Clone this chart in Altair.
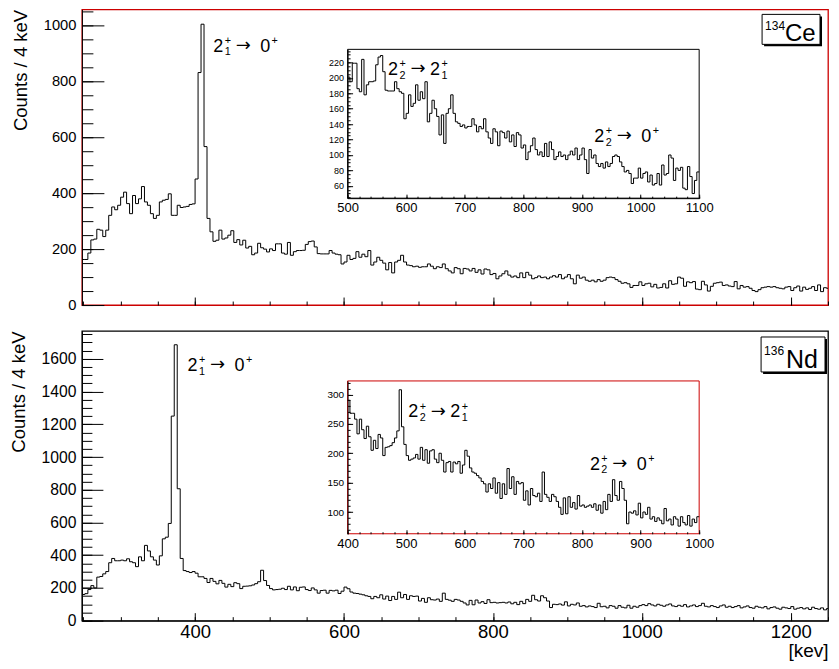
import altair as alt
import pandas as pd

FONT = "Liberation Sans"
BIN = 4          # keV per bin
E0 = 248         # lower edge of first bin (keV)

# ---------------- spectrum data: counts per 4 keV bin ----------------
# 134Ce : 248-500 keV (main view), 500-1100 keV, 1100-1252 keV
ce_low = [163, 163, 186, 233, 236, 271, 268, 245, 268, 321,
          351, 341, 357, 386, 404, 363, 327, 392, 363, 380,
          424, 369, 357, 327, 310, 321, 369, 375, 378, 398,
          321, 321, 357, 349, 351, 353, 360, 362,
          451, 832, 1005, 567,
          310, 262, 228, 232, 268, 236, 240, 250, 266, 224,
          234, 215, 232, 204, 210, 180, 186, 221, 205, 200, 190]
ce_mid = [201, 195, 219, 219, 186, 182, 224, 178, 191, 195,
          195, 196, 217, 227, 229, 208, 184, 183, 183, 183,
          195, 186, 182, 180, 147, 154, 178, 163, 167, 191,
          171, 182, 173, 195, 143, 154, 171, 160, 150, 126,
          152, 115, 154, 160, 178, 154, 143, 141, 137, 139,
          135, 137, 137, 147, 139, 130, 137, 134, 147, 130,
          122, 115, 134, 130, 112, 131, 129, 122, 131, 117,
          126, 111, 129, 126, 109, 113, 94, 104, 112, 122,
          107, 100, 104, 98, 115, 98, 117, 107, 94, 98,
          104, 98, 100, 94, 100, 105, 100, 109, 94, 100,
          109, 94, 76, 107, 96, 100, 89, 85, 89, 83,
          91, 85, 89, 98, 100, 98, 91, 85, 78, 80,
          76, 63, 70, 70, 83, 70, 76, 78, 65, 74,
          61, 63, 76, 61, 87, 74, 76, 100, 96, 67,
          83, 80, 84, 57, 55, 85, 72, 50, 67, 78]
ce_high = [80, 82, 70, 72, 68, 66, 84, 58, 70, 64,
           66, 60, 52, 48, 55, 62, 64, 66, 64, 66,
           62, 60, 58, 64, 66, 52, 62, 68, 50, 64,
           56, 60, 66, 52, 72, 48, 62, 60]

# 136Nd : 248-400 keV (main view), 400-1000 keV, 1000-1252 keV
nd_low = [160, 165, 190, 214, 200, 266, 270, 286, 300, 354,
          380, 366, 366, 370, 366, 378, 360, 354, 330, 390,
          366, 460, 426, 390, 370, 340, 396, 500, 510, 594,
          1250, 1686, 806, 380, 306, 300, 294, 300]
nd_mid = [290, 268, 268, 258, 233, 258, 240, 225, 246, 228,
          205, 222, 208, 232, 226, 196, 210, 211, 213, 218,
          226, 238, 308, 245, 215, 196, 188, 190, 192, 198,
          190, 210, 188, 206, 183, 204, 206, 190, 184, 200,
          188, 168, 184, 186, 168, 185, 182, 186, 166, 180,
          205, 195, 175, 168, 166, 162, 158, 152, 148, 134,
          148, 140, 158, 132, 150, 123, 148, 130, 174, 140,
          160, 130, 152, 148, 150, 120, 136, 112, 140, 128,
          126, 132, 118, 168, 130, 125, 118, 130, 126, 118,
          108, 96, 124, 97, 126, 108, 116, 105, 128, 110,
          112, 108, 110, 112, 108, 114, 103, 112, 98, 118,
          104, 130, 118, 155, 128, 120, 152, 140, 120, 80,
          100, 98, 102, 95, 115, 90, 100, 96, 108, 88,
          92, 84, 90, 86, 80, 106, 85, 88, 78, 92,
          88, 76, 92, 82, 78, 94, 76, 88, 82, 92]
nd_high = [98, 92, 104, 96, 90, 100, 94, 88, 96, 102,
           90, 86, 94, 88, 98, 84, 90, 96, 86, 92,
           106, 88, 84, 92, 86, 80, 90, 96, 82, 88,
           80, 86, 92, 78, 84, 90, 80, 76, 88, 82,
           78, 86, 72, 80, 84, 76, 70, 82, 78, 74,
           86, 70, 76, 80, 72, 78, 68, 82, 74, 70,
           78, 66, 74]

ce_counts = ce_low + ce_mid + ce_high
nd_counts = nd_low + nd_mid + nd_high

# ---------------- axis tick values ----------------
X_MAJOR = [400, 600, 800, 1000, 1200]
X_MINOR = list(range(250, 1251, 50))
CE_Y_MAJOR = [0, 200, 400, 600, 800, 1000]
CE_Y_MINOR = list(range(0, 1051, 50))
ND_Y_MAJOR = list(range(0, 1601, 200))
ND_Y_MINOR = list(range(0, 1751, 50))
CE_IN_X_MAJOR = list(range(500, 1101, 100))
CE_IN_X_MINOR = list(range(500, 1101, 20))
CE_IN_Y_MAJOR = list(range(60, 221, 20))
CE_IN_Y_MINOR = list(range(45, 236, 5))
ND_IN_X_MAJOR = list(range(400, 1001, 100))
ND_IN_X_MINOR = list(range(400, 1001, 20))
ND_IN_Y_MAJOR = list(range(100, 301, 50))
ND_IN_Y_MINOR = list(range(70, 321, 10))

# ---------------- annotations (anchor keV, anchor counts, sub a, b, sub of b) ----------------
ce_main_labels = [(424.3, 907, "1", "0", None)]
ce_inset_labels = [(569.0, 204, "2", "2", "1"), (921.0, 117, "2", "0", None)]
nd_main_labels = [(389.8, 1526, "1", "0", None)]
nd_inset_labels = [(503.5, 261, "2", "2", "1"), (813.5, 172, "2", "0", None)]

# ---------------- layout ----------------
W = 747
H1 = 296
H2 = 290
RED = "#cc0000"


def sc(dom, rng=None):
    if rng is None:
        return alt.Scale(domain=dom, nice=False, zero=False)
    return alt.Scale(domain=dom, range=rng, nice=False, zero=False)


def spectrum(counts, lo=None, hi=None):
    rows = [(E0 + BIN * i, v) for i, v in enumerate(counts)]
    if lo is not None:
        rows = [(e, v) for e, v in rows if lo <= e < hi]
    rows.append((rows[-1][0] + BIN, rows[-1][1]))
    return pd.DataFrame(rows, columns=["e", "c"])


def tick_axis(orient, offset, values, size):
    return alt.Axis(orient=orient, offset=offset, values=values, tickSize=size,
                    ticks=True, labels=False, domain=False, grid=False, title=None,
                    tickColor="black", tickWidth=1, zindex=2)


def hist(df, xs, ys, xax, yax):
    return alt.Chart(df).mark_line(interpolate="step-after", color="black",
                                   strokeWidth=1, clip=True).encode(
        x=alt.X("e:Q", scale=xs, axis=xax),
        y=alt.Y("c:Q", scale=ys, axis=yax))


def ghost(df, xs, ys, xax, yax):
    return alt.Chart(df).mark_line(opacity=0).encode(
        x=alt.X("e:Q", scale=xs, axis=xax),
        y=alt.Y("c:Q", scale=ys, axis=yax))


def transition(e, c, a, b, bsub, xs, ys, s=18):
    bdx = 42 if bsub else 47
    pieces = [("2", 0, 0, s, FONT), ("+", 11.5, -7.7, 0.6 * s, FONT),
              (a, 11.5, 3.8, 0.6 * s, FONT),
              ("→", 22.5, -0.5, s, "DejaVu Sans"), (b, bdx, 0, s, FONT),
              ("+", bdx + 11.5, -7.7, 0.6 * s, FONT)]
    if bsub:
        pieces.append((bsub, bdx + 11.5, 3.8, 0.6 * s, FONT))
    out = []
    for t, dx, dy, fs, fnt in pieces:
        d = pd.DataFrame({"e": [e], "c": [c], "t": [t]})
        out.append(alt.Chart(d).mark_text(align="left", baseline="alphabetic", dx=dx, dy=dy,
                                          fontSize=fs, font=fnt, color="black").encode(
            x=alt.X("e:Q", scale=xs, axis=None),
            y=alt.Y("c:Q", scale=ys, axis=None),
            text="t:N"))
    return out


def one():
    return pd.DataFrame({"k": [0]})


def rect(x1, x2, y1, y2, fill, stroke=None):
    kw = dict(fill=fill)
    if stroke:
        kw.update(stroke=stroke, strokeWidth=1)
    return alt.Chart(one()).mark_rect(**kw).encode(
        x=alt.value(x1), x2=alt.value(x2), y=alt.value(y1), y2=alt.value(y2))


def label_px(text, x, y, fs):
    return alt.Chart(pd.DataFrame({"t": [text]})).mark_text(
        align="left", baseline="alphabetic", fontSize=fs, font=FONT, color="black").encode(
        x=alt.value(x), y=alt.value(y), text="t:N")


def panel(counts, H, ydom, ymaj, ymin, ytick, ylab_fs, inset, main_labels, legend,
          frame, bottom):
    xs = sc([248, 1250])
    ys = sc(ydom)
    df = spectrum(counts)
    yax = alt.Axis(orient="left", values=ymaj, format="d", ticks=False, domain=True,
                   domainColor="black", domainWidth=1, labelFontSize=ylab_fs,
                   labelPadding=6, labelOverlap=False, grid=False,
                   title="Counts / 4 keV", titleFontSize=18.5, titleFontWeight="normal",
                   titleAnchor="end", titlePadding=13, zindex=1)
    if bottom:
        xax = alt.Axis(orient="bottom", values=X_MAJOR, format="d", ticks=False,
                       domain=True, domainColor="black", labelFontSize=18.5, labelPadding=2,
                       labelFlush=False, labelOverlap=False, grid=False, title="[kev]",
                       titleFontSize=19, titleFontWeight="normal", titleAnchor="end",
                       titleBaseline="top", titleY=21, zindex=1)
    else:
        xax = None
    layers = [hist(df, xs, ys, xax, yax),
              ghost(df, xs, ys, tick_axis("top", -H, X_MAJOR, 8),
                    tick_axis("right", -W, ymaj, ytick[0])),
              ghost(df, xs, ys, tick_axis("top", -H, X_MINOR, 4),
                    tick_axis("right", -W, ymin, ytick[1]))]

    # inset (pixel box inside the frame)
    x1, x2, y1, y2 = inset["box"]
    ixs = sc(inset["x"], [x1, x2])
    iys = sc(inset["y"], [y2, y1])
    idf = spectrum(counts, inset["x"][0], inset["x"][1])
    layers.append(rect(x1, x2, y1, y2, "white", inset["frame"]))
    ixax = alt.Axis(orient="bottom", offset=y2 - H, values=inset["xmaj"], format="d",
                    ticks=False, domain=inset["xdomain"], domainColor="black",
                    labelFontSize=13, labelPadding=3.5, labelFlush=False,
                    labelOverlap=False, grid=False, title=None, zindex=1)
    iyax = alt.Axis(orient="left", offset=-x1, values=inset["ymaj"], format="d",
                    ticks=False, domain=True, domainColor="black",
                    labelFontSize=inset["ylab_fs"], labelPadding=4, labelOverlap=False,
                    grid=False, title=None, zindex=1)
    layers.append(hist(idf, ixs, iys, ixax, iyax))
    layers.append(ghost(idf, ixs, iys, tick_axis("top", -y2, inset["xmaj"], 4),
                        tick_axis("right", x1 - W, inset["ymaj"], 5)))
    layers.append(ghost(idf, ixs, iys, tick_axis("top", -y2, inset["xmin"], 2),
                        tick_axis("right", x1 - W, inset["ymin"], 2.5)))

    for e, c, a, b, bsub in main_labels:
        layers += transition(e, c, a, b, bsub, xs, ys)
    for e, c, a, b, bsub in inset["labels"]:
        layers += transition(e, c, a, b, bsub, ixs, iys)

    # nucleus legend box (positions relative to the right edge of the frame)
    bl, br, by1, by2 = legend["box"]
    bx1, bx2 = W - bl, W - br
    layers.append(rect(bx1 + 2, bx2 + 2, by1 + 2, by2 + 2, "black"))
    layers.append(rect(bx1, bx2, by1, by2, "white", "black"))
    layers.append(label_px(legend["mass"], bx1 + 3, legend["my"], 12))
    layers.append(label_px(legend["sym"], bx1 + legend["sdx"], legend["sy"], legend["sfs"]))

    return alt.layer(*layers).resolve_scale(x="independent", y="independent").properties(
        width=W, height=H, view=alt.ViewBackground(stroke=frame, strokeWidth=1.3))


top = panel(ce_counts, H1, [0, 1058], CE_Y_MAJOR, CE_Y_MINOR, (22, 11), 14.7,
            dict(box=(266, 618, 40, 189), x=[500, 1100], y=[44, 237],
                 xmaj=CE_IN_X_MAJOR, xmin=CE_IN_X_MINOR, ymaj=CE_IN_Y_MAJOR,
                 ymin=CE_IN_Y_MINOR, ylab_fs=9, frame="black", xdomain=True,
                 labels=ce_inset_labels),
            ce_main_labels,
            dict(box=(66, 8, 5, 35), mass="134", my=21, sym="Ce", sdx=23, sy=32, sfs=24),
            RED, False)

bottom = panel(nd_counts, H2, [0, 1770], ND_Y_MAJOR, ND_Y_MINOR, (21, 10), 15.7,
               dict(box=(266, 618, 50, 203), x=[400, 1000], y=[63, 323],
                    xmaj=ND_IN_X_MAJOR, xmin=ND_IN_X_MINOR, ymaj=ND_IN_Y_MAJOR,
                    ymin=ND_IN_Y_MINOR, ylab_fs=10, frame=RED, xdomain=False,
                    labels=nd_inset_labels),
               nd_main_labels,
               dict(box=(67, 3, 6, 41), mass="136", my=24, sym="Nd", sdx=25, sy=37, sfs=25),
               "black", True)

chart = alt.vconcat(top, bottom, spacing=26, bounds="flush").properties(
    padding={"left": 0, "top": 0, "right": 0, "bottom": 0}
).configure_axis(
    labelFont=FONT, titleFont=FONT, labelColor="black", titleColor="black", grid=False
).configure_text(font=FONT)

chart.save("out.html", embed_options={"renderer": "svg", "actions": False})
